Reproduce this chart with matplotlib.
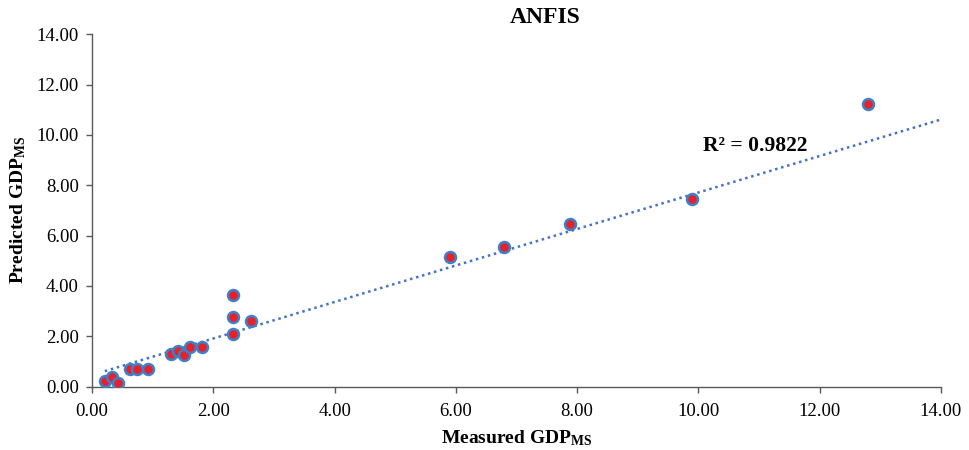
import numpy as np
import matplotlib
matplotlib.use("Agg")
import matplotlib.pyplot as plt

# measured vs predicted GDP_MS
measured = [0.21, 0.33, 0.42, 0.63, 0.74, 0.93, 1.31, 1.42, 1.52, 1.62, 1.82,
            2.32, 2.32, 2.32, 2.62, 5.91, 6.80, 7.89, 9.90, 12.80]
predicted = [0.21, 0.39, 0.13, 0.69, 0.69, 0.68, 1.28, 1.42, 1.25, 1.59, 1.59,
             3.63, 2.76, 2.07, 2.62, 5.15, 5.53, 6.44, 7.44, 11.22]
# trend line as drawn in the original (read off, not refitted)
trend_slope = 0.725
trend_intercept = 0.46
r2_label = "R² = 0.9822"
ticks = [0, 2, 4, 6, 8, 10, 12, 14]

plt.rcParams['font.family'] = ['Liberation Serif', 'DejaVu Serif']
plt.rcParams['mathtext.fontset'] = 'custom'
plt.rcParams['mathtext.rm'] = 'Liberation Serif'
plt.rcParams['mathtext.bf'] = 'Liberation Serif:bold'

fig = plt.figure(figsize=(9.69, 4.5), dpi=100)
ax = fig.add_axes([0.095, 0.141, 0.876, 0.783])

# trend line extended forward to the axis end
xs = np.array([min(measured), 14])
ax.plot(xs, trend_slope * xs + trend_intercept, linestyle=(0, (1, 1.5)),
        color='#4472C4', linewidth=1.8, zorder=2)

ax.scatter(measured, predicted, s=62, facecolor='#E8202A', edgecolor='#3F80C6',
           linewidth=1.8, zorder=3)

ax.text(10.08, 9.57, r2_label, fontsize=15.5, fontweight='bold', ha='left', va='center')

ax.set_xlim(0, 14)
ax.set_ylim(0, 14)
ax.set_xticks(ticks)
ax.set_yticks(ticks)
ax.set_xticklabels([f"{t:.2f}" for t in ticks], fontsize=13.5)
ax.set_yticklabels([f"{t:.2f}" for t in ticks], fontsize=13.5)
ax.tick_params(direction='out', length=4.5, color='#595959', width=1)
ax.tick_params(axis='x', pad=7)
ax.tick_params(axis='y', pad=5)

for side in ['top', 'right']:
    ax.spines[side].set_visible(False)
for side in ['left', 'bottom']:
    ax.spines[side].set_color('#595959')
    ax.spines[side].set_linewidth(1)

fig.text(0.563, 0.961, "ANFIS", fontsize=17, fontweight='bold', ha='center', va='center')
ax.set_xlabel(r"Measured GDP$\mathbf{_{MS}}$", fontsize=14, fontweight='bold', labelpad=6)
ax.set_ylabel(r"Predicted GDP$\mathbf{_{MS}}$", fontsize=14, fontweight='bold', labelpad=6)

fig.savefig("out.png", dpi=100)
